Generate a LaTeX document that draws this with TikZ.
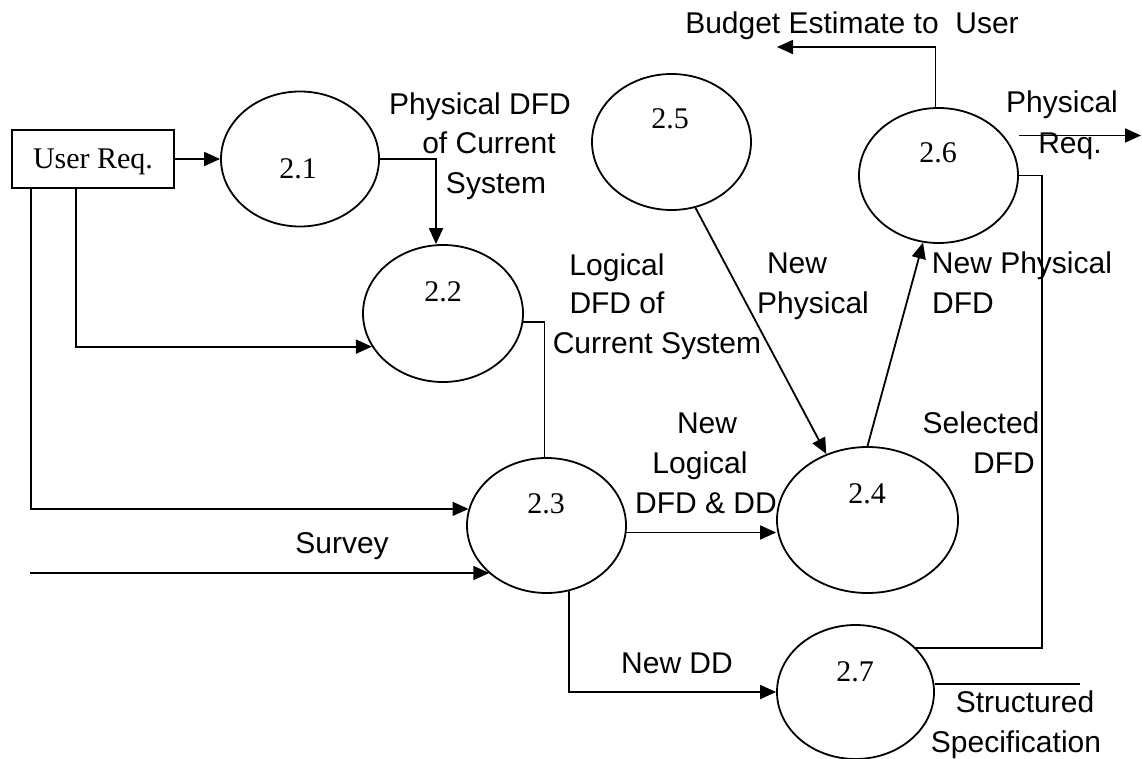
\documentclass[tikz,border=0pt]{standalone}
\usepackage{fontspec}
\setmainfont{Liberation Serif}
\newfontfamily\labelfont{Liberation Sans}
\usetikzlibrary{arrows.meta,shapes.geometric}

\begin{document}
\begin{tikzpicture}[x=1pt,y=-1pt,
  flow/.style={line width=1.8pt, -{Triangle[length=16pt,width=14pt]}},
  plain/.style={line width=1.8pt},
  proc/.style={ellipse, draw, line width=1.8pt, inner sep=0pt},
  num/.style={font=\fontsize{30}{36}\selectfont, anchor=base, inner sep=0pt},
  lbl/.style={font=\labelfont\fontsize{30}{36}\selectfont, anchor=base, inner sep=0pt},
  entity/.style={draw, rectangle, line width=1.8pt, minimum width=162pt,
    minimum height=58pt, inner sep=0pt, font=\fontsize{30}{36}\selectfont,
    text height=20pt, text depth=0pt}
]
\useasboundingbox (0,0) rectangle (1142,759);
\fill[white] (0,0) rectangle (1142,759);

% external entity
\node[entity] (ureq) at (93,159) {User Req.};

% processes
\node[proc, minimum width=158pt, minimum height=135pt] (p21) at (300,159) {};
\node[proc, minimum width=160pt, minimum height=137pt] (p22) at (443,313.5) {};
\node[proc, minimum width=159pt, minimum height=135pt] (p23) at (546.5,525.5) {};
\node[proc, minimum width=181pt, minimum height=146pt] (p24) at (867.5,520) {};
\node[proc, minimum width=159pt, minimum height=136pt] (p25) at (671.5,142) {};
\node[proc, minimum width=159pt, minimum height=135pt] (p26) at (938.5,175.5) {};
\node[proc, minimum width=157pt, minimum height=134pt] (p27) at (855.5,692) {};

% process numbers
\node[num] (n21) at (298,179) {2.1};
\node[num] (n22) at (443,301) {2.2};
\node[num] (n23) at (546,513) {2.3};
\node[num] (n24) at (867,503) {2.4};
\node[num] (n25) at (670,129) {2.5};
\node[num] (n26) at (938,163) {2.6};
\node[num] (n27) at (855,681) {2.7};

% free ends
\coordinate (srv) at (30,573);
\coordinate (bud) at (777,47);
\coordinate (preq) at (1141,135.5);
\coordinate (selc) at (1042,648);
\coordinate (ss) at (1080,684);

% data flows
\draw[flow] (ureq.east) -- (p21.west);
\draw[flow] ([xshift=-17pt]ureq.south) |- (p22.205);
\draw[flow] ([xshift=-62pt]ureq.south) |- (p23.168);
\draw[flow] (srv) -- (srv -| p23.220);
\draw[flow] (p21.east) -| ([xshift=-7pt]p22.north);
\draw[plain] (p22.354) -| ([xshift=-2pt]p23.north);
\draw[flow] (p23.355) -- (p23.355 -| p24.west);
\draw[flow] (p23.289) |- (p27.west);
\draw[flow] (p25.290) -- (p24.122);
\draw[flow] (p24.north) -- (p26.257);
\draw[flow] ([xshift=-3pt]p26.north) |- (bud);
\draw[flow] (p26.east |- preq) -- (preq);
\draw[plain] (p26.east) -| (selc) -- (selc -| p27.37);
\draw[plain] (p27.east |- ss) -- (ss);

% flow labels
\node[lbl] (lbud) at (852,34) {Budget Estimate to\ \ User};
\node[lbl] (lpd1) at (480,115) {Physical DFD};
\node[lbl] (lpd2) at (489,154) {of Current};
\node[lbl] (lpd3) at (496,194) {System};
\node[lbl] (lld1) at (617,275) {Logical};
\node[lbl] (lld2) at (617,313) {DFD of};
\node[lbl] (lld3) at (657,353) {Current System};
\node[lbl] (lnl1) at (707,433) {New};
\node[lbl] (lnl2) at (700,473) {Logical};
\node[lbl] (lnl3) at (706,513) {DFD \& DD};
\node[lbl] (lndd) at (677,673) {New DD};
\node[lbl] (lsrv) at (342,553) {Survey};
\node[lbl] (lnp1) at (797,273) {New};
\node[lbl] (lnp2) at (813,313) {Physical};
\node[lbl] (lnpd1) at (1022,273) {New Physical};
\node[lbl] (lnpd2) at (963,313) {DFD};
\node[lbl] (lpr1) at (1062,113) {Physical};
\node[lbl] (lpr2) at (1070,154) {Req.};
\node[lbl] (lsel1) at (981,433) {Selected};
\node[lbl] (lsel2) at (1004,473) {DFD};
\node[lbl] (lss1) at (1025,712) {Structured};
\node[lbl] (lss2) at (1016,752) {Specification};
\end{tikzpicture}
\end{document}
